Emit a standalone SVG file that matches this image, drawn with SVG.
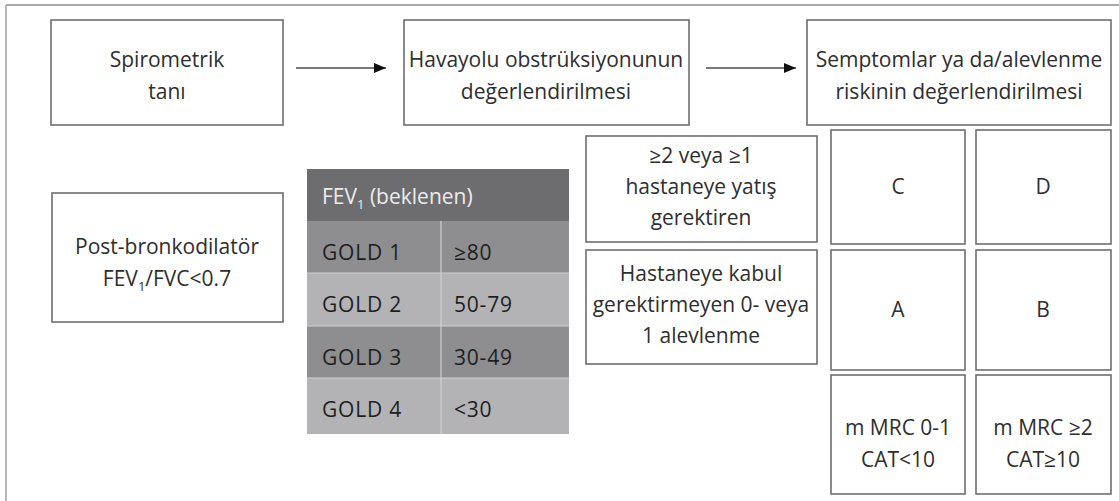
<svg xmlns="http://www.w3.org/2000/svg" width="1119" height="501" viewBox="0 0 1119 501">
<style>
.box{fill:#fff;stroke:#6e6e6e;stroke-width:1.6}
.t{font-family:"Open Sans","Liberation Sans",sans-serif;font-size:21px;fill:#2e2e2e;text-anchor:middle}
.tl{font-family:"Open Sans","Liberation Sans",sans-serif;font-size:21px;fill:#1e1e1e;letter-spacing:0.8px}
.th{font-family:"Open Sans","Liberation Sans",sans-serif;font-size:21px;fill:#ececec}
.sub{font-size:13px}
.conn{stroke:#787878;stroke-width:2;fill:none}
</style>
<defs>
<marker id="ah" viewBox="0 0 12 10" refX="12" refY="5" markerWidth="12" markerHeight="10" markerUnits="userSpaceOnUse" orient="auto">
<path d="M0,0 L12,5 L0,10 Z" fill="#111"/>
</marker>
</defs>
<rect width="1119" height="501" fill="#fff"/>
<g id="frame">
<line x1="6" y1="5" x2="1119" y2="5" stroke="#a8a8a8" stroke-width="2"/>
<line x1="6" y1="5" x2="6" y2="501" stroke="#b8b8b8" stroke-width="2"/>
</g>
<g id="connectors">
<line class="conn" x1="296" y1="68" x2="386" y2="68" marker-end="url(#ah)"/>
<line class="conn" x1="706" y1="68" x2="796" y2="68" marker-end="url(#ah)"/>
</g>
<g id="spirometrik">
<rect class="box" x="51" y="20" width="232" height="105"/>
<text class="t" x="167" y="67">Spirometrik</text>
<text class="t" x="167" y="99">tanı</text>
</g>
<g id="havayolu">
<rect class="box" x="404" y="20" width="285" height="105"/>
<text class="t" x="546" y="67">Havayolu obstrüksiyonunun</text>
<text class="t" x="546" y="99">değerlendirilmesi</text>
</g>
<g id="semptomlar">
<rect class="box" x="807" y="20" width="304" height="105"/>
<text class="t" x="959" y="67">Semptomlar ya da/alevlenme</text>
<text class="t" x="959" y="99">riskinin değerlendirilmesi</text>
</g>
<g id="postbronko">
<rect class="box" x="52" y="193" width="231" height="129"/>
<text class="t" x="167" y="254">Post-bronkodilatör</text>
<text class="t" x="167" y="286">FEV<tspan class="sub" dy="5">1</tspan><tspan dy="-5">/FVC&lt;0.7</tspan></text>
</g>
<g id="fev-table">
<rect x="307" y="169" width="262" height="52" fill="#6d6d6f"/>
<rect x="307" y="221" width="262" height="52" fill="#8e8e90"/>
<rect x="307" y="273" width="262" height="53" fill="#b3b3b5"/>
<rect x="307" y="326" width="262" height="52" fill="#8e8e90"/>
<rect x="307" y="378" width="262" height="56" fill="#b3b3b5"/>
<line x1="307" y1="273" x2="569" y2="273" stroke="#d0d0d0" stroke-width="1.2"/>
<line x1="307" y1="326" x2="569" y2="326" stroke="#d0d0d0" stroke-width="1.2"/>
<line x1="307" y1="378" x2="569" y2="378" stroke="#d0d0d0" stroke-width="1.2"/>
<line x1="441" y1="221" x2="441" y2="434" stroke="#d0d0d0" stroke-width="1.2"/>
<text class="th" x="322" y="204">FEV<tspan class="sub" dy="5">1</tspan><tspan dy="-5"> (beklenen)</tspan></text>
<text class="tl" x="322" y="260">GOLD 1</text>
<text class="tl" x="454" y="260">≥80</text>
<text class="tl" x="322" y="312">GOLD 2</text>
<text class="tl" x="454" y="312">50-79</text>
<text class="tl" x="322" y="365">GOLD 3</text>
<text class="tl" x="454" y="365">30-49</text>
<text class="tl" x="322" y="417">GOLD 4</text>
<text class="tl" x="454" y="417">&lt;30</text>
</g>
<g id="high-risk">
<rect class="box" x="586" y="136" width="231" height="106"/>
<text class="t" x="701" y="163">≥2 veya ≥1</text>
<text class="t" x="701" y="194">hastaneye yatış</text>
<text class="t" x="701" y="225">gerektiren</text>
</g>
<g id="low-risk">
<rect class="box" x="586" y="250" width="231" height="114"/>
<text class="t" x="701" y="281">Hastaneye kabul</text>
<text class="t" x="701" y="312">gerektirmeyen 0- veya</text>
<text class="t" x="701" y="343">1 alevlenme</text>
</g>
<g id="C">
<rect class="box" x="831" y="130" width="134" height="114"/>
<text class="t" x="898" y="194">C</text>
</g>
<g id="D">
<rect class="box" x="976" y="130" width="135" height="114"/>
<text class="t" x="1043" y="194">D</text>
</g>
<g id="A">
<rect class="box" x="831" y="250" width="134" height="120"/>
<text class="t" x="898" y="317">A</text>
</g>
<g id="B">
<rect class="box" x="976" y="250" width="135" height="120"/>
<text class="t" x="1043" y="317">B</text>
</g>
<g id="mmrc-low">
<rect class="box" x="831" y="375" width="134" height="119"/>
<text class="t" x="898" y="435">m MRC 0-1</text>
<text class="t" x="898" y="467">CAT&lt;10</text>
</g>
<g id="mmrc-high">
<rect class="box" x="976" y="375" width="135" height="119"/>
<text class="t" x="1043" y="435">m MRC ≥2</text>
<text class="t" x="1043" y="467">CAT≥10</text>
</g>
</svg>
